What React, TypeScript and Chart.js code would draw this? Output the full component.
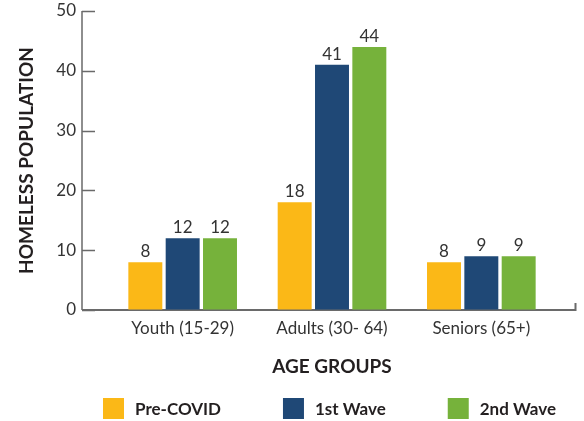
import React, { useEffect, useRef } from "react";
import { Chart, registerables } from "chart.js";

Chart.register(...registerables);

const categories = ["Youth (15-29)", "Adults (30- 64)", "Seniors (65+)"];
const seriesNames = ["Pre-COVID", "1st Wave", "2nd Wave"];
const preCovid = [8, 18, 8];
const firstWave = [12, 41, 9];
const secondWave = [12, 44, 9];
const seriesColors = ["#FBB817", "#1F4876", "#76B23B"];
const yTicks = [0, 10, 20, 30, 40, 50];

const FONT = "Lato";
const TEXT = "#333333";
const AXIS = "#6a6a6a";

const axesPlugin = {
  id: "customAxes",
  beforeDatasetsDraw(chart: any) {
    const { ctx, chartArea } = chart;
    const y = chart.scales.y;
    const axisX = chartArea.left - 26;
    const y0 = y.getPixelForValue(0);
    const yTop = y.getPixelForValue(yTicks[yTicks.length - 1]);
    const rightX = chartArea.right + 19.5;
    ctx.save();
    ctx.strokeStyle = AXIS;
    ctx.lineWidth = 1.5;
    ctx.beginPath();
    ctx.moveTo(axisX, yTop);
    ctx.lineTo(axisX, y0);
    yTicks.forEach((t) => {
      const py = Math.round(y.getPixelForValue(t)) + 0.5;
      ctx.moveTo(axisX, py);
      ctx.lineTo(axisX + 13, py);
    });
    ctx.stroke();
    ctx.lineWidth = 2;
    ctx.beginPath();
    ctx.moveTo(axisX, y0);
    ctx.lineTo(rightX, y0);
    ctx.lineTo(rightX, y0 - 7);
    ctx.stroke();
    ctx.restore();
  },
};

const valueLabelsPlugin = {
  id: "valueLabels",
  afterDatasetsDraw(chart: any) {
    const { ctx } = chart;
    ctx.save();
    ctx.font = `400 17px ${FONT}`;
    ctx.fillStyle = TEXT;
    ctx.textAlign = "center";
    ctx.textBaseline = "alphabetic";
    chart.data.datasets.forEach((ds: any, i: number) => {
      const meta = chart.getDatasetMeta(i);
      meta.data.forEach((bar: any, j: number) => {
        ctx.fillText(String(ds.data[j]), bar.x, bar.y - 5);
      });
    });
    ctx.restore();
  },
};

const legendPlugin = {
  id: "customLegend",
  afterDraw(chart: any) {
    const { ctx, chartArea } = chart;
    const box = 21;
    const gapText = 11;
    ctx.save();
    ctx.font = `700 17px ${FONT}`;
    const items = chart.data.datasets.map((ds: any) => {
      const w = ctx.measureText(ds.label).width;
      return { label: ds.label, color: ds.backgroundColor, w: box + gapText + w };
    });
    const start = chartArea.left - 5;
    const end = chartArea.right;
    const sum = items.reduce((s: number, it: any) => s + it.w, 0);
    const gapItem = (end - start - sum) / (items.length - 1);
    let x = start;
    const top = 398;
    items.forEach((it: any) => {
      ctx.fillStyle = it.color;
      ctx.fillRect(x, top, box, box);
      ctx.fillStyle = "#231f20";
      ctx.textAlign = "left";
      ctx.textBaseline = "middle";
      ctx.fillText(it.label, x + box + gapText, top + box / 2 + 1);
      x += it.w + gapItem;
    });
    ctx.restore();
  },
};

export default function App() {
  const ref = useRef<HTMLCanvasElement>(null);
  useEffect(() => {
    if (!ref.current) return;
    const data = [preCovid, firstWave, secondWave];
    const chart = new Chart(ref.current, {
      type: "bar",
      data: {
        labels: categories,
        datasets: seriesNames.map((name, i) => ({
          label: name,
          data: data[i],
          backgroundColor: seriesColors[i],
          borderWidth: 0,
          categoryPercentage: 0.75,
          barPercentage: 0.91,
        })),
      },
      options: {
        responsive: false,
        animation: false,
        devicePixelRatio: 1,
        layout: { padding: { left: 0, top: 11, right: 28, bottom: 43 } },
        plugins: {
          legend: { display: false },
          tooltip: { enabled: false },
        },
        scales: {
          x: {
            grid: { display: false, drawTicks: false },
            border: { display: false },
            ticks: { color: TEXT, font: { family: FONT, size: 17 }, padding: 8 },
            title: {
              display: true,
              text: "AGE GROUPS",
              color: "#231f20",
              font: { family: FONT, size: 19, weight: "bold" },
              padding: { top: 0, bottom: 0 },
            },
            afterFit: (s: any) => {
              s.height = 68;
            },
          },
          y: {
            min: 0,
            max: 50,
            afterBuildTicks: (s: any) => {
              s.ticks = yTicks.map((v) => ({ value: v }));
            },
            grid: {
              display: true,
              drawOnChartArea: false,
              drawTicks: true,
              tickLength: 32,
              color: "rgba(0,0,0,0)",
            },
            border: { display: false },
            ticks: { color: TEXT, font: { family: FONT, size: 17 }, padding: 0 },
            title: {
              display: true,
              text: "HOMELESS POPULATION",
              color: "#231f20",
              font: { family: FONT, size: 19, weight: "bold" },
              padding: { top: 15, bottom: 0 },
            },
            afterFit: (s: any) => {
              s.width = 108;
            },
          },
        },
      },
      plugins: [axesPlugin, valueLabelsPlugin, legendPlugin],
    });
    return () => chart.destroy();
  }, []);
  return (
    <div style={{ position: "fixed", left: 0, top: 0, width: 584, height: 421, background: "#fff" }}>
      <canvas ref={ref} width={584} height={421} style={{ display: "block" }} />
    </div>
  );
}
